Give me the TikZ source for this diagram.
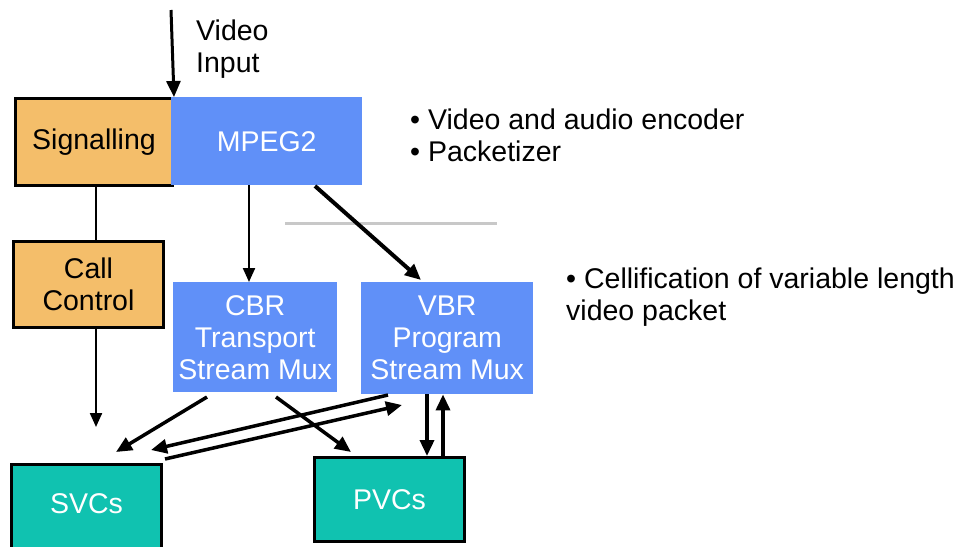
\documentclass[tikz,border=0pt]{standalone}
\usepackage{fontspec}
\setmainfont{Liberation Sans}
\usetikzlibrary{arrows.meta,calc}
\definecolor{sigorange}{HTML}{F4BE6A}
\definecolor{mpegblue}{HTML}{6090F8}
\definecolor{vcteal}{HTML}{10C2B0}
\definecolor{rulegray}{HTML}{C8C8C8}
\tikzset{
  box/.style={rectangle, anchor=north west, inner sep=0pt, align=center,
    font=\fontsize{28.5}{32}\selectfont},
  orangebox/.style={box, fill=sigorange, draw=black, line width=3pt, text=black},
  bluebox/.style={box, fill=mpegblue, text=white},
  tealbox/.style={box, fill=vcteal, draw=black, line width=3pt, text=white},
  lbl/.style={anchor=west, inner sep=0pt, align=left, font=\fontsize{28.5}{32}\selectfont},
  arr/.style={-{Triangle[length=16pt,width=14pt]}, line width=3.5pt},
  thinarr/.style={-{Triangle[length=14pt,width=12pt]}, line width=2.2pt},
}
\begin{document}
\begin{tikzpicture}[x=1pt,y=-1pt]
\useasboundingbox (0,0) rectangle (965,546);
% boxes
\node[orangebox, minimum width=157pt, minimum height=87pt] (sig) at (14,97) {Signalling};
\node[bluebox, minimum width=191pt, minimum height=88pt] (mpeg) at (171,97) {MPEG2};
\node[orangebox, minimum width=150pt, minimum height=86pt] (cc) at (12,240) {Call\\Control};
\node[bluebox, minimum width=164pt, minimum height=110pt] (cbr) at (173,282) {CBR\\Transport\\Stream Mux};
\node[bluebox, minimum width=172pt, minimum height=112pt] (vbr) at (361,282) {VBR\\Program\\Stream Mux};
\node[tealbox, minimum width=150pt, minimum height=90pt] (svc) at (10,463) {\raisebox{12pt}{SVCs}};
\node[tealbox, minimum width=150pt, minimum height=84pt] (pvc) at (313,456) {PVCs};
% labels
\node[lbl] (vidin) at (196,49) {Video\\Input};
\node[lbl] (b1) at (410,119) {\textbullet\ Video and audio encoder};
\node[lbl] (b2) at (410,151) {\textbullet\ Packetizer};
\node[lbl] (b3) at (566,297) {\textbullet\ Cellification of variable length\\video packet};
% gray rule
\coordinate (g1) at (285,223);
\coordinate (g2) at (497,223);
\draw[rulegray, line width=3pt] (g1) -- (g2);
% helper coordinates
\coordinate (vtop) at (171,10);
\coordinate (xs) at (96,0);
\coordinate (xm) at (249,0);
\coordinate (ccend) at (96,427);
\coordinate (m1) at (315,186);
\coordinate (v1) at (421,280);
\coordinate (c1) at (207,397);
\coordinate (s1) at (116,452);
\coordinate (c2) at (276,397);
\coordinate (p1) at (351,452);
\coordinate (v2) at (388,395);
\coordinate (s2) at (151,450);
\coordinate (s3) at (165,459);
\coordinate (v3) at (402,405);
\coordinate (xd) at (427,0);
\coordinate (xu) at (443,0);
% connectors
\draw[arr, line width=3pt] (vtop) -- (sig.north east);
\draw[line width=2pt] (sig.south -| xs) -- (cc.north -| xs);
\draw[thinarr] (cc.south -| xs) -- (ccend);
\draw[thinarr] (mpeg.south -| xm) -- (cbr.north -| xm);
\draw[arr, line width=4pt] (m1) -- (v1);
\draw[arr] (c1) -- (s1);
\draw[arr] (c2) -- (p1);
\draw[arr] (v2) -- (s2);
\draw[arr] (s3) -- (v3);
\draw[arr] (vbr.south -| xd) -- (pvc.north -| xd);
\draw[arr] (pvc.north -| xu) -- (vbr.south -| xu);
\end{tikzpicture}
\end{document}
